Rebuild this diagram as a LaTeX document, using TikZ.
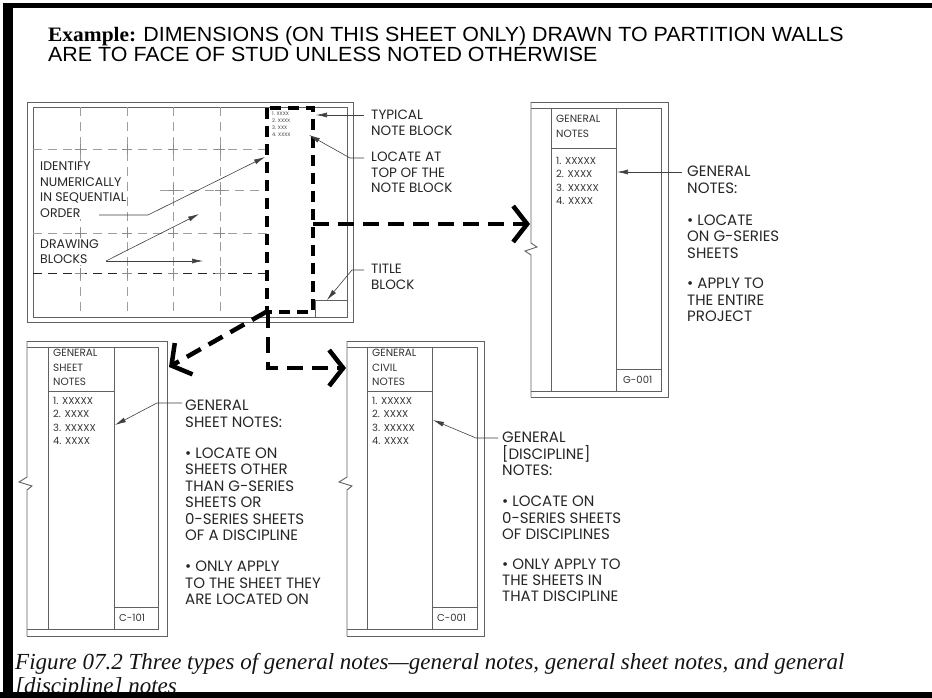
\documentclass[tikz,border=0pt]{standalone}
\usepackage{fontspec}
\setmainfont{Liberation Serif}
\newfontfamily\cg{Poppins}
\newfontfamily\arialf{Liberation Sans}
\usetikzlibrary{arrows.meta}
\begin{document}
\begin{tikzpicture}[x=1pt,y=-1pt,
  sheetline/.style={line width=0.9pt, draw=black!62},
  gridv/.style={line width=0.8pt, draw=black!38, dash pattern=on 9pt off 6pt},
  crossmk/.style={line width=0.8pt, draw=black!45},
  notedash/.style={line width=4pt, dash pattern=on 11pt off 7pt},
  thickdash/.style={line width=4.5pt, dash pattern=on 16pt off 9pt},
  bigarrow/.style={thickdash, -{Straight Barb[length=14pt,width=36pt]}},
  leader/.style={line width=0.6pt, draw=black!75, -{Latex[length=11pt,width=5pt]}},
  lbl/.style={inner sep=0pt, anchor=north west, align=left, text=black!85, font=\cg\fontsize{15}{16.4}\selectfont},
  lblm/.style={inner sep=0pt, anchor=north west, align=left, text=black!85, font=\cg\fontsize{13.5}{15.5}\selectfont},
  lbls/.style={inner sep=1pt, anchor=north west, align=left, text=black!85, fill=white, font=\cg\fontsize{12.5}{15.5}\selectfont},
  shhead/.style={inner sep=0pt, anchor=north west, align=left, text=black!80, font=\cg\fontsize{10.5}{14.5}\selectfont},
  shitem/.style={inner sep=0pt, anchor=north west, align=left, text=black!80, font=\cg\fontsize{10}{13.5}\selectfont},
  tiny/.style={inner sep=0pt, anchor=west, text=black!75, font=\cg\fontsize{5}{6}\selectfont},
  hdr/.style={inner sep=0pt, anchor=base west, font=\fontsize{20.5}{22}\selectfont}
]
\useasboundingbox (0,0) rectangle (932,698);
\fill[white] (0,0) rectangle (932,698);

% ---------- header ----------
\node[hdr] (hdrA) at (48,41.5) {\scalebox{1.045}[1]{\textbf{Example:} {\arialf DIMENSIONS (ON THIS SHEET ONLY) DRAWN TO PARTITION WALLS}}};
\node[hdr] (hdrB) at (48,61.5) {\scalebox{1.045}[1]{\arialf ARE TO FACE OF STUD UNLESS NOTED OTHERWISE}};

% ---------- sheet 1 (plan with note block) ----------
\draw[sheetline] (27,102) rectangle (353,322);
\draw[sheetline] (33,107) rectangle (347,317);
\foreach \x in {80,127,173,220} \draw[gridv] (\x,107) -- (\x,317);
\draw[gridv] (33,149) -- (267,149);
\draw[gridv] (160,190) -- (267,190);
\draw[gridv] (33,233) -- (267,233);
\draw[gridv, draw=black!85] (33,273) -- (267,273);
\foreach \x in {80,127,173,220} \foreach \y in {149,233,273}
  \draw[crossmk] ({\x-5},\y) -- ({\x+5},\y) (\x,{\y-5}) -- (\x,{\y+5});
\foreach \x in {173,220}
  \draw[crossmk] ({\x-5},190) -- ({\x+5},190) (\x,185) -- (\x,195);
\draw[sheetline] (315,300) rectangle (347,317);

\node[lbls] (idf) at (39,161) {IDENTIFY\\NUMERICALLY\\IN SEQUENTIAL\\ORDER};
\node[lbls] (drw) at (39,238) {DRAWING\\BLOCKS};

% note block
\draw[notedash] (267,108) rectangle (313,312);
\node[tiny] (nb1) at (272,114) {1. XXXX};
\node[tiny] (nb2) at (272,121) {2. XXXX};
\node[tiny] (nb3) at (272,128) {3. XXX};
\node[tiny] (nb4) at (272,135) {4. XXXX};

\node[lblm] (typ) at (371,110) {TYPICAL\\NOTE BLOCK};
\node[lblm] (loc) at (371,152) {LOCATE AT\\TOP OF THE\\NOTE BLOCK};
\node[lblm] (tit) at (371,264) {TITLE\\BLOCK};

\coordinate (typS) at (364,115); \coordinate (typE) at (316,115);
\draw[leader] (typS) -- (typE);
\coordinate (locS) at (364,158); \coordinate (locM) at (350,158); \coordinate (locE) at (309,135);
\draw[leader] (locS) -- (locM) -- (locE);
\coordinate (titS) at (364,270); \coordinate (titM) at (352,270); \coordinate (titE) at (327,300);
\draw[leader] (titS) -- (titM) -- (titE);
\coordinate (idfS) at (99,215); \coordinate (idfM) at (148,215); \coordinate (idfE) at (265,157);
\draw[leader] (idfS) -- (idfM) -- (idfE);
\coordinate (drwS) at (106,261); \coordinate (drwE1) at (199,214); \coordinate (drwE2) at (203,261);
\draw[leader] (drwS) -- (drwE1);
\draw[leader] (drwS) -- (drwE2);

% ---------- sheet G-001 ----------
\draw[sheetline] (531,102) -- (668,102) -- (668,397) -- (531,397);
\draw[sheetline] (531,108) -- (661,108) -- (661,391) -- (531,391);
\draw[sheetline] (531,102) -- (531,243) -- (537,247) -- (525,251) -- (531,255) -- (531,397);
\draw[sheetline] (551,108) -- (551,391);
\draw[sheetline] (616,108) -- (616,391);
\draw[sheetline] (551,148) -- (616,148);
\draw[sheetline] (616,369) -- (661,369);
\node[shhead] (gH) at (556,115) {GENERAL\\NOTES};
\node[shitem] (gI) at (556,157) {1. XXXXX\\2. XXXX\\3. XXXXX\\4. XXXX};
\node[shitem, anchor=west] (gT) at (623,380) {G-001};

\node[lbl] (gn) at (687,166) {GENERAL\\NOTES:\\[16pt]\textbullet\ LOCATE\\ON G-SERIES\\SHEETS\\[14pt]\textbullet\ APPLY TO\\THE ENTIRE\\PROJECT};
\coordinate (gnS) at (682,172); \coordinate (gnE) at (617,172);
\draw[leader] (gnS) -- (gnE);

% ---------- sheet C-101 ----------
\draw[sheetline] (27,341) -- (167,341) -- (167,636) -- (27,636);
\draw[sheetline] (27,347) -- (158,347) -- (158,629) -- (27,629);
\draw[sheetline] (27,341) -- (27,477) -- (19,482) -- (32,486) -- (27,490) -- (27,636);
\draw[sheetline] (48,347) -- (48,629);
\draw[sheetline] (114,347) -- (114,629);
\draw[sheetline] (48,391) -- (114,391);
\draw[sheetline] (114,607) -- (158,607);
\node[shhead] (aH) at (53,349) {GENERAL\\SHEET\\NOTES};
\node[shitem] (aI) at (53,397) {1. XXXXX\\2. XXXX\\3. XXXXX\\4. XXXX};
\node[shitem, anchor=west] (aT) at (119,618) {C-101};

\node[lbl] (an) at (185,400) {GENERAL\\SHEET NOTES:\\[15pt]\textbullet\ LOCATE ON\\SHEETS OTHER\\THAN G-SERIES\\SHEETS OR\\0-SERIES SHEETS\\OF A DISCIPLINE\\[15pt]\textbullet\ ONLY APPLY\\TO THE SHEET THEY\\ARE LOCATED ON};
\coordinate (anS) at (182,403); \coordinate (anM) at (157,403); \coordinate (anE) at (115,425);
\draw[leader] (anS) -- (anM) -- (anE);

% ---------- sheet C-001 ----------
\draw[sheetline] (347,341) -- (484,341) -- (484,636) -- (347,636);
\draw[sheetline] (347,347) -- (477,347) -- (477,629) -- (347,629);
\draw[sheetline] (347,341) -- (347,477) -- (339,482) -- (352,486) -- (347,490) -- (347,636);
\draw[sheetline] (367,347) -- (367,629);
\draw[sheetline] (432,347) -- (432,629);
\draw[sheetline] (367,391) -- (432,391);
\draw[sheetline] (432,607) -- (477,607);
\node[shhead] (bH) at (372,349) {GENERAL\\CIVIL\\NOTES};
\node[shitem] (bI) at (372,397) {1. XXXXX\\2. XXXX\\3. XXXXX\\4. XXXX};
\node[shitem, anchor=west] (bT) at (437,618) {C-001};

\node[lbl] (bn) at (502,432) {GENERAL\\{[}DISCIPLINE]\\NOTES:\\[15pt]\textbullet\ LOCATE ON\\0-SERIES SHEETS\\OF DISCIPLINES\\[13pt]\textbullet\ ONLY APPLY TO\\THE SHEETS IN\\THAT DISCIPLINE};
\coordinate (bnS) at (498,438); \coordinate (bnM) at (476,438); \coordinate (bnE) at (433,420);
\draw[leader] (bnS) -- (bnM) -- (bnE);

% ---------- thick dashed arrows ----------
\coordinate (nbR) at (313,224); \coordinate (gL) at (530,224);
\draw[bigarrow] (nbR) -- (gL);
\coordinate (nbBL) at (266,312); \coordinate (aTR) at (169,367);
\draw[bigarrow] (nbBL) -- (aTR);
\coordinate (nbB) at (268,312); \coordinate (nbC) at (268,368); \coordinate (bL) at (346,368);
\draw[bigarrow] (nbB) -- (nbC) -- (bL);

% ---------- caption ----------
\node[inner sep=0pt, anchor=base west, align=left, text=black!92, font=\itshape\fontsize{23}{24}\selectfont] (cap) at (15,693)
  {Figure 07.2 Three types of general notes---general notes, general sheet notes, and general\\{[}discipline] notes};

% ---------- frame ----------
\fill[black] (3,3) rectangle (932,8);
\fill[black] (3,3) rectangle (13,698);
\fill[black] (0,692) rectangle (932,698);
\end{tikzpicture}
\end{document}
